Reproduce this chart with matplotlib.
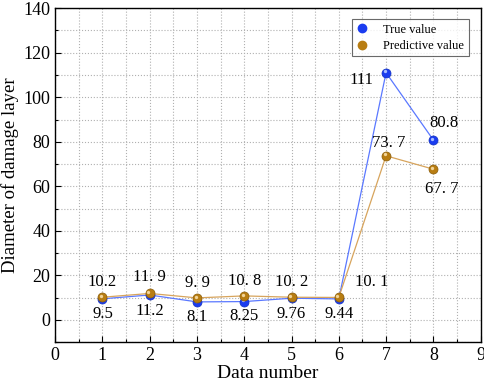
import matplotlib.pyplot as plt
import matplotlib.transforms as mtransforms
import numpy as np

plt.rcParams['font.family'] = ['Liberation Serif', 'DejaVu Serif']

# Данные
data_num = [1, 2, 3, 4, 5, 6, 7, 8]
true_val = [9.5, 11.2, 8.1, 8.25, 9.76, 9.44, 111, 80.8]
pred_val = [10.2, 11.9, 9.9, 10.8, 10.2, 10.1, 73.7, 67.7]
true_lbl = ['9.5', '11.2', '8.1', '8.25', '9.76', '9.44', '111', '80.8']
pred_lbl = ['10.2', '11. 9', '9. 9', '10. 8', '10. 2', '10. 1', '73. 7', '67. 7']

# Смещения подписей (в точках)
true_off = [(0, -11), (0, -11.5), (0, -11), (0, -10.5), (0, -11.5), (0, -11), (-18, -5), (8, 12)]
pred_off = [(0, 11), (0, 11.5), (0, 11), (0, 11), (0, 11), (24, 11), (2, 9), (6, -14)]

fig = plt.figure(figsize=(4.84, 3.88), dpi=100)
ax = fig.add_axes([0.114, 0.118, 0.879, 0.861])

blue_line = '#5a78ff'
gold_line = '#d7a45c'
blue = '#1a3cf0'
gold = '#b87d12'

ax.plot(data_num, true_val, '-', color=blue_line, lw=0.9, zorder=3)
ax.plot(data_num, pred_val, '-', color=gold_line, lw=0.9, zorder=3)
ax.plot(data_num, true_val, 'o', color=blue, ms=6.5, mec='#1030c0', mew=0.5, zorder=4)
ax.plot(data_num, pred_val, 'o', color=gold, ms=6.5, mec='#8a5c08', mew=0.5, zorder=5)

# блики на шариках
hl = mtransforms.offset_copy(ax.transData, fig=fig, x=-1.0, y=1.0, units='points')
ax.plot(data_num, true_val, 'o', color='#a8bcff', ms=2.4, mew=0, transform=hl, zorder=4.5)
ax.plot(data_num, pred_val, 'o', color='#f2d498', ms=2.4, mew=0, transform=hl, zorder=5.5)

for x, y, s, o in zip(data_num, true_val, true_lbl, true_off):
    ax.annotate(s, (x, y), xytext=o, textcoords='offset points',
                ha='center', va='center', fontsize=12)
for x, y, s, o in zip(data_num, pred_val, pred_lbl, pred_off):
    ax.annotate(s, (x, y), xytext=o, textcoords='offset points',
                ha='center', va='center', fontsize=12)

# легенда
ax.plot([], [], 'o', color=blue, ms=6, label='True value')
ax.plot([], [], 'o', color=gold, ms=6, label='Predictive value')
h, l = ax.get_legend_handles_labels()
leg = ax.legend(h[-2:], l[-2:], loc='upper right',
                bbox_to_anchor=(1 - 12 / 426, 1 - 11 / 334), borderaxespad=0,
                fontsize=9, frameon=True, fancybox=False, edgecolor='#444444',
                handlelength=1.0, handletextpad=1.2, borderpad=0.35, labelspacing=0.35)
leg.get_frame().set_linewidth(0.8)

ax.set_xlim(0, 9)
ax.set_ylim(-10, 140)
ax.set_xticks(np.arange(0, 10, 1))
ax.set_xticks(np.arange(0.5, 9, 1), minor=True)
ax.set_yticks(np.arange(0, 141, 20))
ax.set_yticks(np.arange(-10, 141, 10), minor=True)
ax.tick_params(which='both', direction='in', labelsize=13, width=0.8)
ax.tick_params(which='major', length=4)
ax.tick_params(which='minor', length=2)
ax.grid(True, which='both', ls=':', color='#b0b0b0', lw=0.8)
for sp in ax.spines.values():
    sp.set_linewidth(1.0)

ax.set_xlabel('Data number', fontsize=14, labelpad=1)
ax.set_ylabel('Diameter of damage layer', fontsize=13.5, labelpad=3)

fig.savefig('out.png', dpi=100)
